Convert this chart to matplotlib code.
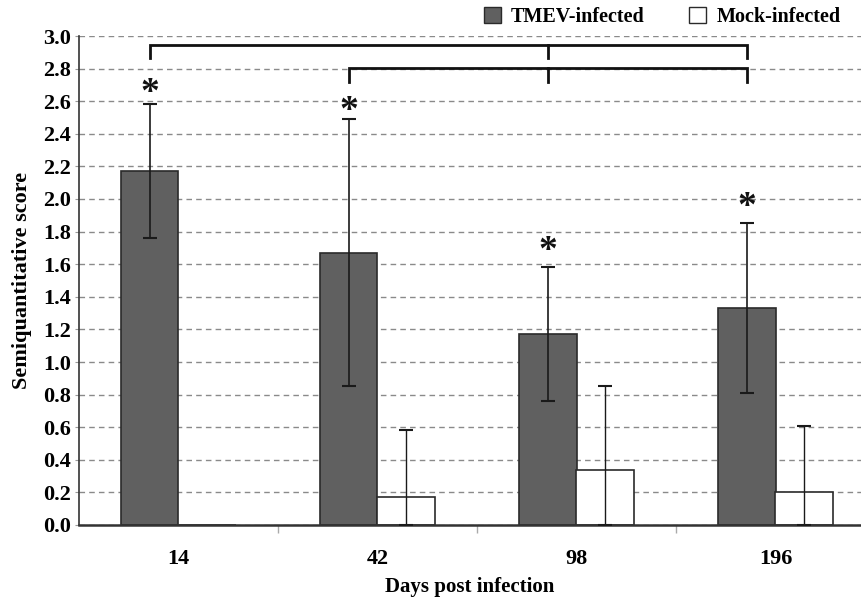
import matplotlib
matplotlib.use("Agg")
import matplotlib.pyplot as plt
import numpy as np
from matplotlib.patches import Patch

days = ["14", "42", "98", "196"]
tmev = [2.17, 1.67, 1.17, 1.33]
tmev_err = [0.41, 0.82, 0.41, 0.52]
mock = [0.0, 0.17, 0.34, 0.20]
mock_err = [0.0, 0.41, 0.51, 0.41]
star_y = [2.54, 2.43, 1.57, 1.84]
yticks = [0.0, 0.2, 0.4, 0.6, 0.8, 1.0, 1.2, 1.4, 1.6, 1.8, 2.0, 2.2, 2.4, 2.6, 2.8, 3.0]
# significance brackets: (from group, to group, middle group, y level, drop)
brackets = [(0, 3, 2, 2.945, 0.08), (1, 3, 2, 2.805, 0.085)]

plt.rcParams['font.family'] = ['Liberation Serif', 'DejaVu Serif']
plt.rcParams['font.weight'] = 'bold'

fig = plt.figure(figsize=(8.62, 5.99), dpi=100)
ax = fig.add_axes([79/862, 1-525/599, 782/862, (525-36)/599])

w = 0.29
x = np.arange(len(days))
ax.set_axisbelow(True)
ax.yaxis.grid(True, linestyle=(0, (4, 3)), color='#8a8a8a', linewidth=1.0)
ax.bar(x - w/2, tmev, w, color='#606060', edgecolor='#2a2a2a', linewidth=1.2, zorder=2)
ax.bar(x + w/2, mock, w, color='white', edgecolor='#2a2a2a', linewidth=1.2, zorder=2)
ax.errorbar(x - w/2, tmev, yerr=tmev_err, fmt='none', ecolor='#1a1a1a', elinewidth=1.2,
            capsize=5, capthick=1.5, zorder=3)
mock_lo = np.minimum(mock, mock_err)
ax.errorbar((x + w/2)[1:], mock[1:], yerr=[mock_lo[1:], mock_err[1:]], fmt='none',
            ecolor='#1a1a1a', elinewidth=1.0, capsize=5, capthick=1.5, zorder=3)

for xi, sy in zip(x - w/2, star_y):
    ax.text(xi, sy, '*', ha='center', va='bottom', fontsize=27, fontweight='bold', color='#111111')

for a, b, m, yl, d in brackets:
    xa, xb, xm = a - w/2, b - w/2, m - w/2
    ax.plot([xa, xa, xb, xb], [yl - d, yl, yl, yl - d], color='#111111', lw=2.0,
            solid_joinstyle='miter', zorder=4, clip_on=False)
    ax.plot([xm, xm], [yl, yl - d], color='#111111', lw=2.0, zorder=4)

ax.set_xlim(-0.5, -0.5 + 782/199)
ax.set_ylim(0, 3.0)
ax.set_yticks(yticks)
ax.set_yticklabels([f"{v:.1f}" for v in yticks], fontsize=16, fontweight='bold')
ax.set_xticks(x)
ax.set_xticklabels(days, fontsize=16, fontweight='bold')
ax.tick_params(axis='x', length=0, pad=17)
ax.tick_params(axis='y', length=3, width=0.8, color='#999999', pad=3)
ax.set_xticks([0.5, 1.5, 2.5], minor=True)
ax.tick_params(axis='x', which='minor', length=6, color='#aaaaaa', width=1)
for s in ['top', 'right']:
    ax.spines[s].set_visible(False)
ax.spines['left'].set_color('#333333')
ax.spines['left'].set_linewidth(1.2)
ax.spines['bottom'].set_color('#333333')
ax.spines['bottom'].set_linewidth(1.8)
ax.set_ylabel('Semiquantitative score', fontsize=16, fontweight='bold', labelpad=8)
ax.set_xlabel('Days post infection', fontsize=15, fontweight='bold', labelpad=6)

handles = [Patch(facecolor='#606060', edgecolor='#2a2a2a', label='TMEV-infected'),
           Patch(facecolor='white', edgecolor='#2a2a2a', label='Mock-infected')]
fig.legend(handles=handles, loc='upper right', bbox_to_anchor=(0.996, 1.018), ncol=2, frameon=False,
           prop={'size': 14.5, 'weight': 'bold'}, handlelength=0.85, handleheight=0.85,
           handletextpad=0.5, columnspacing=2.2)

fig.savefig('out.png', dpi=100)
